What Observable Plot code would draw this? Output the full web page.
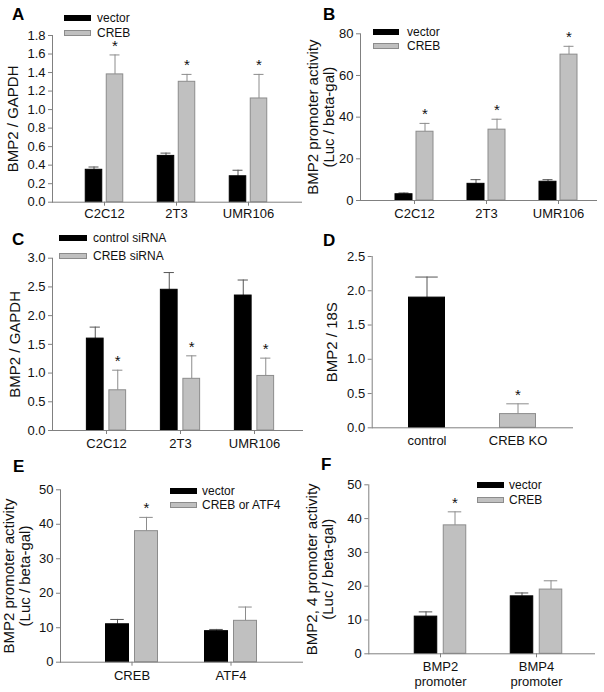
<!DOCTYPE html>
<html><head><meta charset="utf-8">
<script src="https://cdn.jsdelivr.net/npm/d3@7"></script>
<script src="https://cdn.jsdelivr.net/npm/@observablehq/plot@0.6"></script>
<style>
html,body{margin:0;padding:0;background:#fff;}
#fig{position:relative;width:604px;height:692px;overflow:hidden;font-family:"Liberation Sans",Arial,sans-serif;color:#111;}
#fig svg{position:absolute;left:0;top:0;}
#fig svg text{fill:#111;}
.letter{position:absolute;font-weight:bold;font-size:17px;line-height:17px;color:#000;}
.lg{position:absolute;font-size:12px;line-height:14px;white-space:nowrap;color:#111;}
.sw{position:absolute;box-sizing:border-box;height:6px;}
</style>
</head><body><div id="fig"></div>
<script>
// ---------- DATA ----------
// Panel A
const groupsA = ["C2C12", "2T3", "UMR106"];
const vectorA = [0.35, 0.50, 0.28];
const vectorTopA = [0.38, 0.53, 0.345];
const crebA = [1.38, 1.30, 1.12];
const crebTopA = [1.59, 1.38, 1.38];
const crebSigA = [true, true, true];
const ticksA = [0, 0.2, 0.4, 0.6, 0.8, 1.0, 1.2, 1.4, 1.6, 1.8];
const legendA = ["vector", "CREB"];
// Panel B
const groupsB = ["C2C12", "2T3", "UMR106"];
const vectorB = [3, 8, 9];
const vectorTopB = [3.6, 10, 10];
const crebB = [33, 34, 70];
const crebTopB = [37, 39, 74];
const crebSigB = [true, true, true];
const ticksB = [0, 20, 40, 60, 80];
const legendB = ["vector", "CREB"];
// Panel C
const groupsC = ["C2C12", "2T3", "UMR106"];
const controlC = [1.6, 2.45, 2.35];
const controlTopC = [1.8, 2.75, 2.62];
const sirnaC = [0.7, 0.9, 0.95];
const sirnaTopC = [1.05, 1.3, 1.26];
const sirnaSigC = [true, true, true];
const ticksC = [0, 0.5, 1.0, 1.5, 2.0, 2.5, 3.0];
const legendC = ["control siRNA", "CREB siRNA"];
// Panel D
const groupsD = ["control", "CREB KO"];
const valuesD = [1.9, 0.2];
const topsD = [2.2, 0.35];
const sigD = [false, true];
const fillsD = ["#000000", "#c0c0c0"];
const ticksD = [0, 0.5, 1.0, 1.5, 2.0, 2.5];
// Panel E
const groupsE = ["CREB", "ATF4"];
const vectorE = [11, 9];
const vectorTopE = [12.4, 9.5];
const tfE = [38, 12];
const tfTopE = [42, 16];
const tfSigE = [true, false];
const ticksE = [0, 10, 20, 30, 40, 50];
const legendE = ["vector", "CREB or ATF4"];
// Panel F
const groupsF = ["BMP2\npromoter", "BMP4\npromoter"];
const vectorF = [11, 17];
const vectorTopF = [12.4, 18];
const crebF = [38, 19];
const crebTopF = [42, 21.6];
const crebSigF = [true, false];
const ticksF = [0, 10, 20, 30, 40, 50];
const legendF = ["vector", "CREB"];

const BLACK = {fill: "#000000", stroke: "#000000", err: "#555555"};
const GRAY = {fill: "#c0c0c0", stroke: "#8c8c8c", err: "#8c8c8c"};
const AXIS = "#808080";
const fig = document.getElementById("fig");

function panel(cfg) {
  const n = cfg.groups.length;
  const step = (cfg.centers[1] - cfg.centers[0]) / (n - 1);
  const range = [cfg.centers[0] - step / 2, cfg.centers[1] + step / 2];
  const ns = cfg.series.length;
  const marks = [];
  cfg.series.forEach((s, i) => {
    const off = (i - (ns - 1) / 2) * (cfg.barW + cfg.gap);
    const rows = cfg.groups.map((g, k) => ({g, v: s.values[k], t: s.tops[k], sig: s.sig[k],
      fill: s.fills ? s.fills[k] : s.style.fill,
      stroke: s.fills ? (s.fills[k] === "#000000" ? "#000000" : GRAY.stroke) : s.style.stroke,
      err: s.fills ? (s.fills[k] === "#000000" ? BLACK.err : GRAY.err) : s.style.err}));
    marks.push(Plot.ruleX(rows, {x: "g", y1: "v", y2: "t", dx: off, stroke: "err", strokeWidth: 1}));
    marks.push(Plot.tickY(rows, {x: "g", y: "t", stroke: "err", strokeWidth: 1,
      insetLeft: step / 2 + off - cfg.capW / 2, insetRight: step / 2 - off - cfg.capW / 2}));
    marks.push(Plot.barY(rows, {x: "g", y: "v", fill: "fill", stroke: "stroke", strokeWidth: 1,
      insetLeft: step / 2 + off - cfg.barW / 2, insetRight: step / 2 - off - cfg.barW / 2}));
    marks.push(Plot.text(rows.filter(r => r.sig), {x: "g", y: "t", text: () => "*", dx: off, dy: -9, fontSize: 15}));
  });
  marks.push(Plot.ruleY([0], {stroke: AXIS, strokeWidth: 1}));
  marks.push(Plot.text(cfg.groups, {x: d => d, text: d => d, frameAnchor: "bottom", lineAnchor: "middle",
    textAnchor: "middle", dy: cfg.xDy, fontSize: 13, lineHeight: 1.15}));
  marks.push(Plot.text([cfg.ylabel], {text: d => d, frameAnchor: "left", textAnchor: "middle", lineAnchor: "middle",
    rotate: -90, dx: cfg.ylabelX - cfg.frame.left, fontSize: 15, lineHeight: 1.02}));
  const svg = Plot.plot({
    width: 604, height: 692,
    marginLeft: cfg.frame.left, marginRight: 604 - cfg.frame.right,
    marginTop: cfg.frame.top, marginBottom: 692 - cfg.frame.bottom,
    style: {background: "transparent", fontFamily: "Liberation Sans, Arial, sans-serif", fontSize: "13px", color: AXIS, overflow: "visible"},
    x: {domain: cfg.groups, range, padding: 0, tickSize: cfg.xTick, tickFormat: () => "", label: null},
    y: {domain: [0, cfg.ticks[cfg.ticks.length - 1]], ticks: cfg.ticks, tickFormat: cfg.fmt, tickSize: 4, tickPadding: 3, label: null, line: true},
    marks
  });
  fig.appendChild(svg);
}

function legend(labels, styles, x0, x1, tx, cys) {
  labels.forEach((lab, i) => {
    const sw = document.createElement("div");
    sw.className = "sw";
    sw.style.left = x0 + "px"; sw.style.width = (x1 - x0) + "px";
    sw.style.top = (cys[i] - 3) + "px";
    sw.style.background = styles[i].fill;
    sw.style.border = "1px solid " + styles[i].stroke;
    fig.appendChild(sw);
    const t = document.createElement("div");
    t.className = "lg"; t.textContent = lab;
    t.style.left = tx + "px"; t.style.top = (cys[i] - 7) + "px";
    fig.appendChild(t);
  });
}
function letter(ch, x, y) {
  const d = document.createElement("div");
  d.className = "letter"; d.textContent = ch;
  d.style.left = x + "px"; d.style.top = (y - 2) + "px";
  fig.appendChild(d);
}
const f1 = d3.format(".1f");
const f0 = d => String(d);

// A
panel({groups: groupsA, centers: [104, 248], barW: 16.5, gap: 4.5, capW: 10, xTick: 4, xDy: 11,
  frame: {left: 52, right: 302, top: 35, bottom: 201.7}, ticks: ticksA, fmt: f1,
  ylabel: "BMP2 / GAPDH", ylabelX: 13,
  series: [{values: vectorA, tops: vectorTopA, sig: [false, false, false], style: BLACK},
           {values: crebA, tops: crebTopA, sig: crebSigA, style: GRAY}]});
// B
panel({groups: groupsB, centers: [413.5, 557.5], barW: 17, gap: 4, capW: 10, xTick: 4, xDy: 13,
  frame: {left: 360, right: 597, top: 33.3, bottom: 200}, ticks: ticksB, fmt: f0,
  ylabel: "BMP2 promoter activity\n(Luc / beta-gal)", ylabelX: 320.5,
  series: [{values: vectorB, tops: vectorTopB, sig: [false, false, false], style: BLACK},
           {values: crebB, tops: crebTopB, sig: crebSigB, style: GRAY}]});
// C
panel({groups: groupsC, centers: [105, 254.5], barW: 17.5, gap: 5, capW: 11, xTick: 4, xDy: 13,
  frame: {left: 52, right: 303, top: 257.7, bottom: 430}, ticks: ticksC, fmt: f1,
  ylabel: "BMP2 / GAPDH", ylabelX: 15,
  series: [{values: controlC, tops: controlTopC, sig: [false, false, false], style: BLACK},
           {values: sirnaC, tops: sirnaTopC, sig: sirnaSigC, style: GRAY}]});
// D
panel({groups: groupsD, centers: [426, 517.5], barW: 36.5, gap: 0, capW: 23, xTick: 0, xDy: 12,
  frame: {left: 371.7, right: 573, top: 256, bottom: 427.3}, ticks: ticksD, fmt: f1,
  ylabel: "BMP2 / 18S", ylabelX: 332,
  series: [{values: valuesD, tops: topsD, sig: sigD, fills: fillsD}]});
// E
panel({groups: groupsE, centers: [131, 230.5], barW: 23.5, gap: 5.5, capW: 14, xTick: 4, xDy: 13,
  frame: {left: 60, right: 303, top: 489.3, bottom: 661.7}, ticks: ticksE, fmt: f0,
  ylabel: "BMP2 promoter activity\n(Luc / beta-gal)", ylabelX: 16.5,
  series: [{values: vectorE, tops: vectorTopE, sig: [false, false], style: BLACK},
           {values: tfE, tops: tfTopE, sig: tfSigE, style: GRAY}]});
// F
panel({groups: groupsF, centers: [439.5, 536], barW: 23, gap: 6, capW: 14, xTick: 4, xDy: 20,
  frame: {left: 368.3, right: 595, top: 484.3, bottom: 653.3}, ticks: ticksF, fmt: f0,
  ylabel: "BMP2, 4 promoter activity\n(Luc / beta-gal)", ylabelX: 319.5,
  series: [{values: vectorF, tops: vectorTopF, sig: [false, false], style: BLACK},
           {values: crebF, tops: crebTopF, sig: crebSigF, style: GRAY}]});

legend(legendA, [BLACK, GRAY], 64, 91, 97, [18, 33]);
legend(legendB, [BLACK, GRAY], 373, 399, 407, [32, 46]);
legend(legendC, [BLACK, GRAY], 59, 87, 93, [238, 256]);
legend(legendE, [BLACK, GRAY], 170, 197, 202, [490.7, 505]);
legend(legendF, [BLACK, GRAY], 477, 504, 509, [485, 500]);

letter("A", 12, 8); letter("B", 323, 8);
letter("C", 12, 233); letter("D", 323, 234);
letter("E", 13, 460); letter("F", 321, 458);
</script>
</body></html>
